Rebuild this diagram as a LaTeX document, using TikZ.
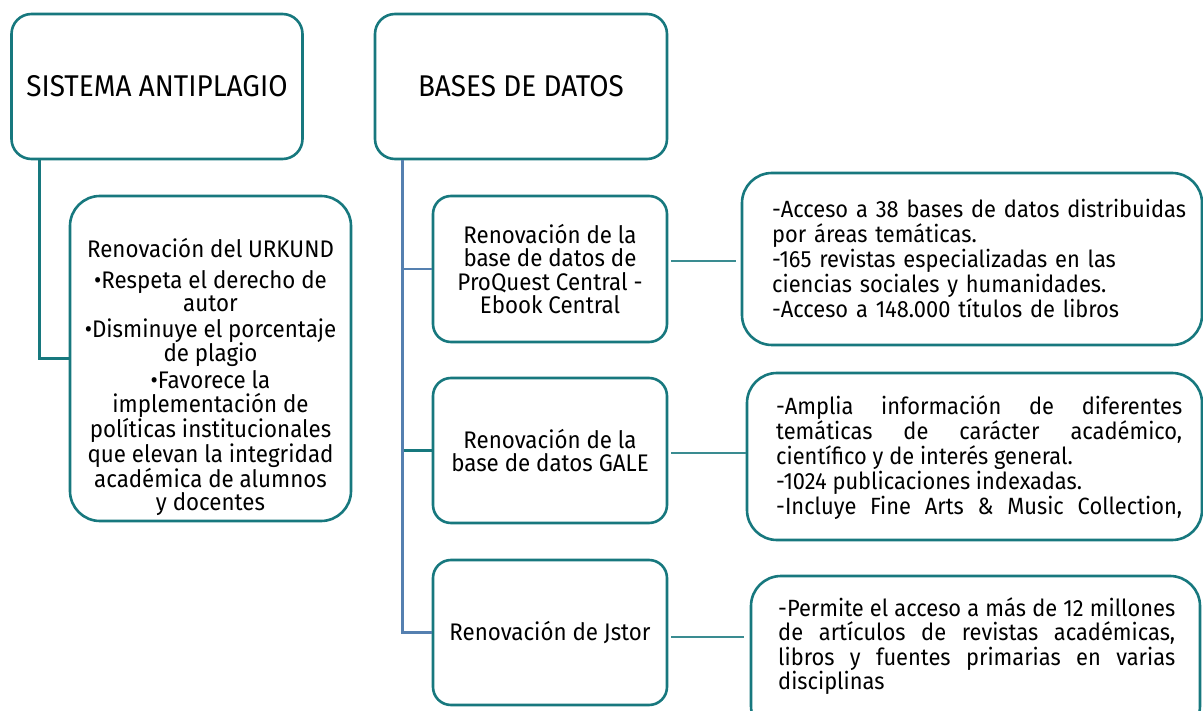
\documentclass[tikz,border=0pt]{standalone}
\usepackage{fontspec}
\setmainfont{Fira Sans}[FakeStretch=0.93]
\definecolor{tealc}{HTML}{17787E}
\definecolor{bluec}{HTML}{5580B0}
\tikzset{
  box/.style={draw=tealc, line width=2.6pt, fill=white, rounded corners=#1},
  box/.default=20pt,
  tconn/.style={draw=tealc, line width=2.6pt},
  bconn/.style={draw=bluec, line width=2.6pt},
  thin/.style={draw=tealc!85!white, line width=1.4pt},
  title/.style={font=\fontsize{30}{32}\selectfont},
  body/.style={font=\fontsize{24}{23.3}\selectfont, align=center},
  det/.style={font=\fontsize{23.5}{25}\selectfont, inner sep=0pt},
}
\begin{document}
\begin{tikzpicture}[x=1pt,y=-1pt]
\useasboundingbox (0,0) rectangle (1203,711);
\clip (0,0) rectangle (1203,711);
% top boxes
\node[box, minimum width=291pt, minimum height=145pt] (sis) at (157,86.5) {};
\node[title] (sist) at (sis.center) {SISTEMA ANTIPLAGIO};
\node[box, minimum width=292pt, minimum height=145pt] (bas) at (521,86.5) {};
\node[title] (bast) at (bas.center) {BASES DE DATOS};
% URKUND
\node[box=30pt, minimum width=281pt, minimum height=325pt] (urk) at (210.5,358.5) {};
\node[body] (urkt) at (210.5,377) {Renovación del URKUND\\[7.5pt]
•Respeta el derecho de\\ autor\\[2.5pt]
•Disminuye el porcentaje\\ de plagio\\[3.5pt]
•Favorece la\\ implementación de\\ políticas institucionales\\ que elevan la integridad\\ académica de alumnos\\ y docentes};
% middle boxes
\node[box=18pt, minimum width=234pt, minimum height=146pt] (pq) at (550,269) {};
\node[body] (pqt) at (pq.center) {Renovación de la\\ base de datos de\\ ProQuest Central -\\ Ebook Central};
\node[box=18pt, minimum width=234pt, minimum height=145pt] (gale) at (550,450.5) {};
\node[body] (galet) at (gale.center) {Renovación de la\\ base de datos GALE};
\node[box=18pt, minimum width=234pt, minimum height=145pt] (js) at (550,632.5) {};
\node[body] (jst) at (js.center) {Renovación de Jstor};
% detail boxes
\node[box=30pt, minimum width=460pt, minimum height=172pt] (d1) at (972,259) {};
\node[det, align=left, text width=440pt, anchor=west] (d1t) at (772,258) {-Acceso a 38 bases de datos distribuidas\\ por áreas temáticas.\\ -165 revistas especializadas en las\\ ciencias sociales y humanidades.\\ -Acceso a 148.000 títulos de libros};
\node[box=30pt, minimum width=455pt, minimum height=167pt] (d2) at (974.5,456.5) {};
\node[det, align=justify, text width=406pt, anchor=west] (d2t) at (776,458) {-Amplia información de diferentes\linebreak temáticas de carácter académico,\linebreak científico y de interés general.\\ -1024 publicaciones indexadas.\\ \makebox[406pt][s]{-Incluye Fine Arts \& Music Collection,}};
\node[box=30pt, minimum width=449pt, minimum height=160pt] (d3) at (975.5,656) {};
\node[det, font=\fontsize{23.5}{24.3}\selectfont, align=justify, text width=397pt, anchor=west] (d3t) at (778,646) {\spaceskip=0.25em plus 1.5em minus 0.2em\relax -Permite el acceso a más de 12 millones\linebreak de artículos de revistas académicas,\linebreak libros y fuentes primarias en varias\linebreak disciplinas};
% connectors
\draw[tconn] ([xshift=29pt]sis.south west) |- (urk.west);
\draw[bconn] ([xshift=29pt]bas.south west) |- (pq.west);
\draw[tconn] ([xshift=29pt]bas.south west |- gale.west) -- (gale.west);
\draw[bconn] ([xshift=29pt]bas.south west) |- (js.west);
\draw[thin] ([xshift=3pt]pq.east |- 0,261) -- ([xshift=-5pt]d1.west |- 0,261);
\draw[thin] ([xshift=3pt]gale.east |- 0,453) -- (d2.west |- 0,453);
\draw[thin] ([xshift=3pt]js.east |- 0,637) -- ([xshift=-6pt]d3.west |- 0,637);
\end{tikzpicture}
\end{document}
